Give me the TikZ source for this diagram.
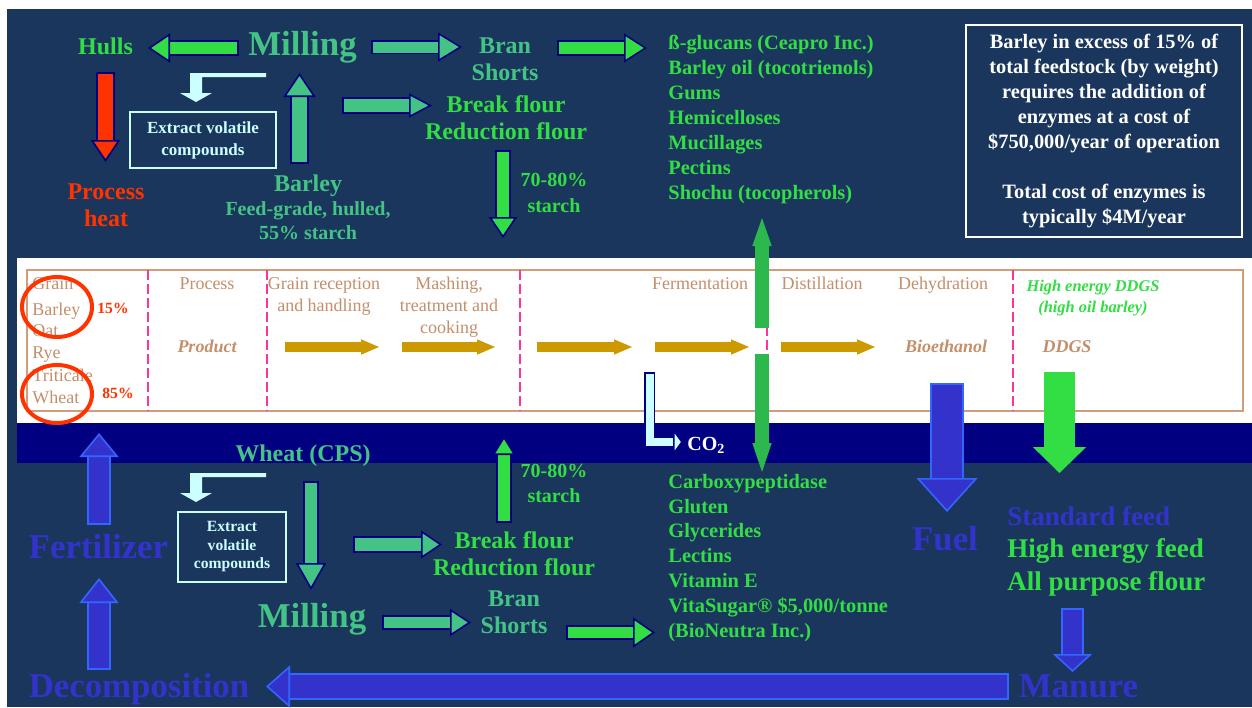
\documentclass[tikz,border=0pt]{standalone}
\usepackage{fontspec}
\setmainfont{Liberation Serif}
\usepackage{xcolor}
\usepackage{tikz}
\usetikzlibrary{arrows.meta,positioning}
\definecolor{slideNavy}{HTML}{1A365D}
\definecolor{bandNavy}{HTML}{000080}
\definecolor{edgeNavy}{HTML}{000080}
\definecolor{midGreen}{HTML}{44C484}
\definecolor{brightGreen}{HTML}{33DD44}
\definecolor{dotGreen}{HTML}{2DB84D}
\definecolor{heatRed}{HTML}{FF3300}
\definecolor{paleCyan}{HTML}{CCFFFF}
\definecolor{fuelBlue}{HTML}{3333CC}
\definecolor{fuelEdge}{HTML}{3366FF}
\definecolor{goldArrow}{HTML}{CC9900}
\definecolor{tanText}{HTML}{C48F6A}
\definecolor{tanFrame}{HTML}{D19C78}
\definecolor{pinkDash}{HTML}{FF3399}

% block arrow: shaft, head width, head length, fill, outline
\tikzset{
  fat/.style n args={5}{draw=#4, line width=#1pt,
    -{Triangle[width=#2pt,length=#3pt,fill=#4,color=#5,line width=0.8pt]},
    preaction={draw=#5, -, line width=#1pt+1.6pt, shorten >=#3pt, shorten <=-0.8pt}},
  gold/.style={fat={3.5}{7.5}{9}{goldArrow}{goldArrow}}
}

\begin{document}
\begin{tikzpicture}[x=0.5pt, y=-0.5pt, every node/.style={inner sep=0pt},
  big/.style={font=\bfseries\fontsize{17.4}{20}\selectfont, anchor=base},
  mid/.style={font=\bfseries\fontsize{12}{13.5}\selectfont, align=center},
  note/.style={font=\bfseries\fontsize{10}{12}\selectfont, align=center},
  uses/.style={font=\bfseries\fontsize{10.2}{12.45}\selectfont, align=left, text=brightGreen, anchor=west},
  tab/.style={font=\fontsize{9}{11}\selectfont, text=tanText, align=center},
  tabit/.style={font=\bfseries\itshape\fontsize{9}{11}\selectfont, text=tanText, anchor=base},
  extract/.style={draw=paleCyan, line width=1pt, text=paleCyan, align=center},
  pct/.style={font=\bfseries\fontsize{7.8}{9}\selectfont, text=heatRed, anchor=base west},
  divider/.style={pinkDash, line width=1pt, dash pattern=on 5pt off 2pt}]
\useasboundingbox (0,0) rectangle (1252,707);
\fill[white] (0,0) rectangle (1252,707);
\fill[slideNavy] (7,9) rectangle (1252,707);

% process table band
\fill[white] (17,258) rectangle (1252,423);
\fill[bandNavy] (17,423) rectangle (1252,463);
\draw[tanFrame, line width=1pt] (27,270) rectangle (1243,411);
\draw[divider] (148,270) -- (148,411);
\draw[divider] (267,270) -- (267,411);
\draw[divider] (520,270) -- (520,411);
\draw[divider] (767,270) -- (767,411);
\draw[divider] (1013,270) -- (1013,411);

\node[tab, anchor=base west] (grain) at (32,289) {Grain};
\node[tab, anchor=base west] (tbarley) at (32,315) {Barley};
\node[tab, anchor=base west] (toat) at (32,336) {Oat};
\node[tab, anchor=base west] (trye) at (32,358) {Rye};
\node[tab, anchor=base west] (ttriticale) at (32,381) {Triticale};
\node[tab, anchor=base west] (twheat) at (32,403) {Wheat};
\node[tab, anchor=base] (process) at (207,289) {Process};
\node[tabit] (product) at (207,352) {Product};
\node[tab] (reception) at (324,296) {Grain reception\\and handling};
\node[tab] (mashing) at (449,307) {Mashing,\\treatment and\\cooking};
\node[tab, anchor=base] (ferment) at (700,289) {Fermentation};
\node[tab, anchor=base] (distil) at (822,289) {Distillation};
\node[tab, anchor=base] (dehyd) at (943,289) {Dehydration};
\node[font=\bfseries\itshape\fontsize{8.2}{10.5}\selectfont, text=brightGreen, align=center] (hiddgs) at (1093,297.7) {High energy DDGS\\(high oil barley)};
\node[tabit] (bioeth) at (946,352) {Bioethanol};
\node[tabit] (ddgs) at (1067,352) {DDGS};

\draw[heatRed, line width=2pt] (57,307) ellipse [x radius=35, y radius=30];
\draw[heatRed, line width=2pt] (57,394) ellipse [x radius=35, y radius=29];
\node[pct] (p15) at (97,313) {15\%};
\node[pct] (p85) at (102,398) {85\%};

\coordinate (g1a) at (287,347); \coordinate (g1b) at (379,347);
\coordinate (g2a) at (404,347); \coordinate (g2b) at (495,347);
\coordinate (g3a) at (539,347); \coordinate (g3b) at (632,347);
\coordinate (g4a) at (657,347); \coordinate (g4b) at (749,347);
\coordinate (g5a) at (783,347); \coordinate (g5b) at (875,347);
\draw[gold] (g1a) -- (g1b);
\draw[gold] (g2a) -- (g2b);
\draw[gold] (g3a) -- (g3b);
\draw[gold] (g4a) -- (g4b);
\draw[gold] (g5a) -- (g5b);

% barley side
\node[big, text=midGreen] (milltop) at (302.5,55) {Milling};
\node[mid, text=brightGreen, anchor=base] (hulls) at (105.5,54) {Hulls};
\node[mid, text=heatRed] (heat) at (106,205.5) {Process\\heat};
\node[mid, text=midGreen] (brantop) at (505,59.5) {Bran\\Shorts};
\node[mid, text=brightGreen] (flourtop) at (506,117.3) {Break flour\\Reduction flour};
\node[mid, text=midGreen, anchor=base] (barley) at (308,191) {Barley};
\node[note, text=midGreen] (barleynote) at (308,221) {Feed-grade, hulled,\\55\% starch};
\node[note, text=brightGreen, font=\bfseries\fontsize{10}{13}\selectfont] (starchtop) at (554,193) {70-80\%\\starch};
\node[extract, minimum width=73pt, minimum height=28pt, font=\bfseries\fontsize{8.5}{11}\selectfont] (extracttop) at (203,140) {Extract volatile\\compounds};
\node[uses] (usestop) at (668,119.6) {ß-glucans (Ceapro Inc.)\\Barley oil (tocotrienols)\\Gums\\Hemicelloses\\Mucillages\\Pectins\\Shochu (tocopherols)};
\node[draw=white, line width=1pt, text=white, font=\bfseries\fontsize{10.2}{12.5}\selectfont, align=center, minimum width=138pt, minimum height=106pt] (costbox) at (1104,131) {Barley in excess of 15\% of\\total feedstock (by weight)\\requires the addition of\\enzymes at a cost of\\\$750,000/year of operation\\[12.5pt]Total cost of enzymes is\\typically \$4M/year};

\fill[paleCyan] (266,73) -| (190,93) -- (180,93) -- (196,102) -- (212,93) -- (202,93) |- (266,77) -- cycle;

\coordinate (hullsA) at (237,48); \coordinate (hullsB) at (148,48);
\coordinate (branA) at (373,47); \coordinate (branB) at (462,47);
\coordinate (usesA) at (559,48); \coordinate (usesB) at (647,48);
\coordinate (heatA) at (105.5,74); \coordinate (heatB) at (105.5,162);
\coordinate (barleyA) at (299.5,162); \coordinate (barleyB) at (299.5,73);
\coordinate (flourA) at (344,105.5); \coordinate (flourB) at (432,105.5);
\coordinate (starchA) at (503,152); \coordinate (starchB) at (503,238);
\draw[fat={6}{14.5}{11}{brightGreen}{edgeNavy}] (hullsA) -- (hullsB);
\draw[fat={5.5}{14.5}{12}{midGreen}{edgeNavy}] (branA) -- (branB);
\draw[fat={6}{14.5}{11.5}{brightGreen}{edgeNavy}] (usesA) -- (usesB);
\draw[fat={7.5}{14.5}{11}{heatRed}{edgeNavy}] (heatA) -- (heatB);
\draw[fat={7.5}{16}{12}{midGreen}{edgeNavy}] (barleyA) -- (barleyB);
\draw[fat={6.5}{12}{11.5}{midGreen}{edgeNavy}] (flourA) -- (flourB);
\draw[fat={6}{14}{10.5}{brightGreen}{edgeNavy}] (starchA) -- (starchB);

% fermentation by-products
\coordinate (upA) at (762,326); \coordinate (upB) at (762,218);
\coordinate (downA) at (762,356); \coordinate (downB) at (762,472);
\draw[fat={5}{9.5}{14}{dotGreen}{dotGreen}] (upA) -- (upB);
\draw[fat={5}{9.5}{14.5}{dotGreen}{dotGreen}] (downA) -- (downB);
\coordinate (co2A) at (649.5,374); \coordinate (co2B) at (683,442);
\draw[fat={4}{13.5}{5}{paleCyan}{edgeNavy}] (co2A) |- (co2B);
\node[font=\bfseries\fontsize{10}{12}\selectfont, text=white, anchor=base west] (co2) at (687,450) {CO\textsubscript{2}};

% wheat side
\node[mid, text=midGreen, anchor=base] (wheat) at (303,461) {Wheat (CPS)};
\node[extract, minimum width=54pt, minimum height=35pt, font=\bfseries\fontsize{7.8}{9.25}\selectfont] (extractbot) at (232,547) {Extract\\volatile\\compounds};
\node[big, text=midGreen] (millbot) at (312,627) {Milling};
\node[mid, text=brightGreen] (flourbot) at (514,554) {Break flour\\Reduction flour};
\node[note, text=brightGreen, font=\bfseries\fontsize{10}{12.5}\selectfont] (starchbot) at (554,483.6) {70-80\%\\starch};
\node[mid, text=midGreen] (branbot) at (514,612.5) {Bran\\Shorts};
\node[uses] (usesbot) at (668,557.9) {Carboxypeptidase\\Gluten\\Glycerides\\Lectins\\Vitamin E\\VitaSugar® \$5,000/tonne\\(BioNeutra Inc.)};

\fill[paleCyan, shift={(0,400)}] (266,73) -| (190,93) -- (180,93) -- (196,102) -- (212,93) -- (202,93) |- (266,77) -- cycle;

\coordinate (wheatA) at (311,483); \coordinate (wheatB) at (311,590);
\coordinate (flourbotA) at (355,544.5); \coordinate (flourbotB) at (442,544.5);
\coordinate (starchbotA) at (504,521); \coordinate (starchbotB) at (504,436);
\coordinate (branbotA) at (384,622.5); \coordinate (branbotB) at (471,622.5);
\coordinate (usesbotA) at (568,632.5); \coordinate (usesbotB) at (655,632.5);
\draw[fat={6}{15}{13.5}{midGreen}{edgeNavy}] (wheatA) -- (wheatB);
\draw[fat={6.5}{14}{10.5}{midGreen}{edgeNavy}] (flourbotA) -- (flourbotB);
\draw[fat={6}{11.5}{9.5}{brightGreen}{edgeNavy}] (starchbotA) -- (starchbotB);
\draw[fat={5.5}{13.5}{10.5}{midGreen}{edgeNavy}] (branbotA) -- (branbotB);
\draw[fat={5.5}{15}{11}{brightGreen}{edgeNavy}] (usesbotA) -- (usesbotB);

% products and the nutrient cycle
\node[big, text=fuelBlue] (fert) at (98.5,558) {Fertilizer};
\node[big, text=fuelBlue] (decomp) at (139,697) {Decomposition};
\node[big, text=fuelBlue] (fuel) at (945,550) {Fuel};
\node[big, text=fuelBlue] (manure) at (1078.5,697) {Manure};
\node[font=\bfseries\fontsize{13.5}{16.25}\selectfont, align=left, anchor=west, text=brightGreen] (feeds) at (1007,551) {\textcolor{fuelBlue}{Standard feed}\\High energy feed\\All purpose flour};

\coordinate (fuelA) at (947,385); \coordinate (fuelB) at (947,512);
\coordinate (ddgsA) at (1059.5,374); \coordinate (ddgsB) at (1059.5,473);
\coordinate (manureA) at (1072.5,610); \coordinate (manureB) at (1072.5,672);
\coordinate (loopA) at (1007,686.5); \coordinate (loopB) at (266,686.5);
\coordinate (fertA) at (99,523); \coordinate (fertB) at (99,433);
\coordinate (decompA) at (99,668); \coordinate (decompB) at (99,578);
\draw[fat={15}{30.5}{17}{fuelBlue}{fuelEdge}] (fuelA) -- (fuelB);
\draw[fat={13.5}{26.5}{13}{brightGreen}{brightGreen}] (ddgsA) -- (ddgsB);
\draw[fat={9.5}{19.5}{9}{fuelBlue}{fuelEdge}] (manureA) -- (manureB);
\draw[fat={11.5}{21}{12}{fuelBlue}{fuelEdge}] (loopA) -- (loopB);
\draw[fat={10}{19.5}{12}{fuelBlue}{fuelEdge}] (fertA) -- (fertB);
\draw[fat={10}{19.5}{12.5}{fuelBlue}{fuelEdge}] (decompA) -- (decompB);
\end{tikzpicture}
\end{document}
